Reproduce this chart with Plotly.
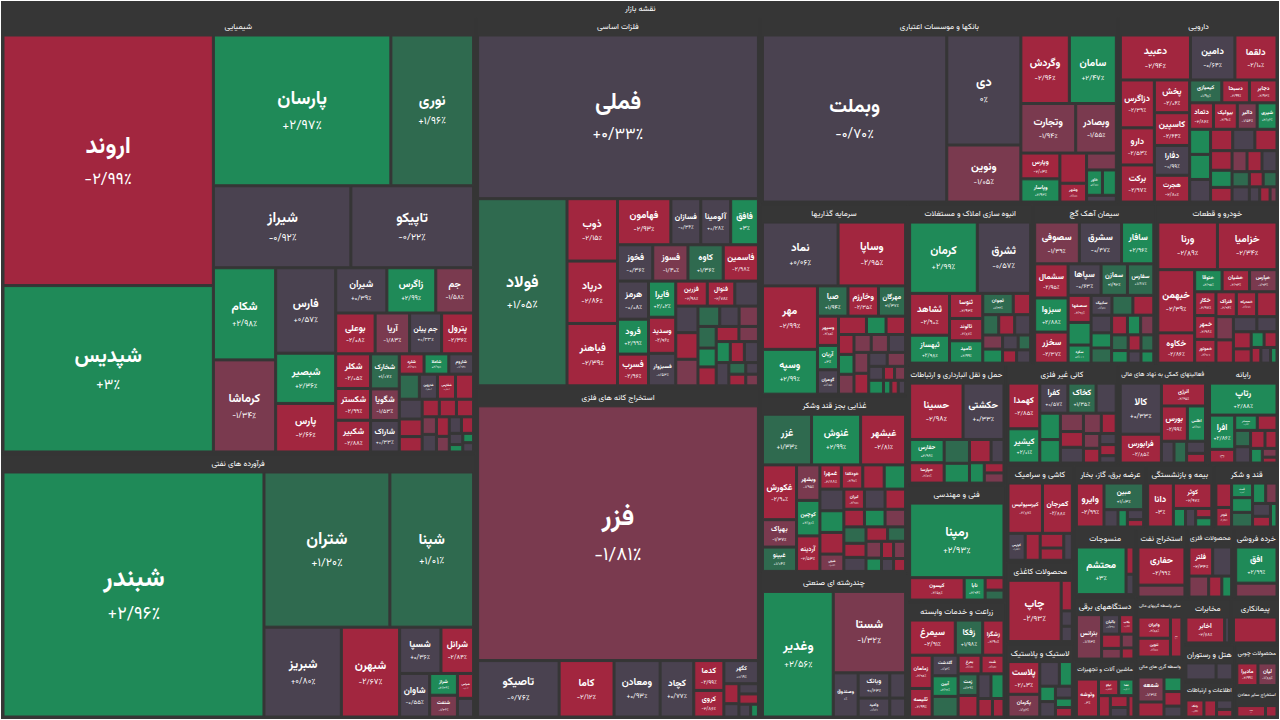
import math
import plotly.graph_objects as go

ROOT = "نقشه بازار"

# ---------------- data (sizes ~ relative market value, changes in %) ----------------
s01 = "شیمیایی"
s01_names = ["اروند", "شپدیس", "پارسان", "نوری", "شیراز", "تاپیکو", "شکام", "فارس", "کرماشا", "شبصیر",
             "پارس", "شیران", "زاگرس", "جم", "بوعلی", "آریا", "جم پیلن", "پترول", "شکلر", "شکستر",
             "شکبیر", "شخارک", "شگویا", "شاراک", "شلرد", "شاملا", "شاروم", "شاروین", "شفارس",
             "", "", "", "", "", "", "", "", "", "", "", "", "", "", "", "", "", ""]
s01_sizes = [52.4, 34.8, 26.6, 12.4, 11.2, 10.0, 5.7, 5.1, 5.7, 3.0,
             2.9, 2.3, 2.2, 1.7, 1.6, 1.4, 1.3, 1.3, 1.2, 1.1,
             1.1, 1.0, 0.9, 0.9, 0.5, 0.5, 0.5, 0.45, 0.45,
             0.45, 0.45, 0.4, 0.35, 0.5, 0.3, 0.3, 0.25, 0.25, 0.25, 0.2, 0.2, 0.2, 0.15, 0.1, 0.1, 0.1, 0.3]
s01_changes = [-2.99, 3, 2.97, 1.96, -0.92, -0.22, 2.98, 0.57, -1.34, 2.36,
               -2.66, 0.39, 2.99, -1.58, -2.08, -1.83, 0.33, -2.36, -2.05, -2.99,
               -2.88, 1.07, -1.53, 0.33, -2.97, 2.96, -0.92, -0.52, -2.62,
               -2.9, -0.5, -2.8, -2.5, 1.5, -2.5, -2.2, -1.5, -0.3, -2.9, -1.2, -0.4, -2.6, -0.2, 2.5, 2.5, 0, -2.9]

s02 = "فرآورده های نفتی"
s02_names = ["شبندر", "شتران", "شپنا", "شبریز", "شبهرن", "شسپا", "شرانل", "شاوان", "شراز", "شنفت", "شپاس", ""]
s02_sizes = [63.5, 19.4, 12.9, 6.9, 5.2, 1.9, 1.5, 1.3, 0.6, 0.6, 0.4, 0.3]
s02_changes = [2.96, 1.20, 1.01, 0.80, -2.67, 0.36, -2.84, -0.55, 2.36, -1.36, -2.10, -0.3]

s03 = "فلزات اساسی"
s03_names = ["فملی", "فولاد", "ذوب", "درپاد", "فباهنر", "فهامون", "فسازان", "آلومینا", "فافق", "فخوز",
             "فسوز", "کاوه", "فاسمین", "هرمز", "فرود", "فسرب", "فایرا", "وسدید", "فسبزوار", "فزرین", "فنوال",
             "", "", "", "", "", "", "", "", "", "", "", "", "", "", "", "", "", "", "", ""]
s03_sizes = [46.7, 17.0, 3.2, 3.2, 3.2, 2.5, 1.4, 1.4, 1.3, 1.3,
             1.3, 1.3, 1.3, 1.2, 1.1, 1.0, 1.0, 1.0, 0.9, 0.8, 0.7,
             0.6, 0.6, 0.6, 0.6, 0.4, 0.4, 0.35, 0.35, 0.45, 0.3, 0.3, 0.3, 0.4, 0.35, 0.3, 0.2, 0.2, 0.15, 0.15, 0.3]
s03_changes = [0.33, 1.05, -2.15, -2.86, -2.39, -2.93, -0.36, 0.28, 3, -0.36,
               -1.40, 1.36, -2.98, -0.08, 2.99, -2.96, 2.02, -2.96, -0.53, -2.98, -2.78,
               -0.3, -0.3, -2.9, -1.5, -0.2, -1.4, 2.9, -2.9, 1.4, -1.5, 2.8, -2.9, 1.4, -2.9, -0.2, 1.4, -2.9, -0.1, -1.2, -0.4]

s04 = "استخراج کانه های فلزی"
s04_names = ["فزر", "تاصیکو", "کاما", "ومعادن", "کچاد", "کدما", "کروی", "کگهر", "", "", "", "", "", ""]
s04_sizes = [71.5, 4.6, 3.1, 2.6, 1.9, 0.9, 0.8, 0.8, 0.3, 0.2, 0.2, 0.2, 0.1, 0.15]
s04_changes = [-1.81, -0.76, -2.12, 0.93, 0.77, -2.99, -2.86, 0.19, -2.9, -0.2, -0.1, -2.9, 2.5, 0]

s05 = "بانکها و موسسات اعتباری"
s05_names = ["وبملت", "دی", "ونوین", "وگردش", "سامان", "وتجارت", "وبصادر", "وپارس", "وپاسار", "وشهر", "خاور",
             "", "", "", ""]
s05_sizes = [30.6, 8.1, 4.2, 3.3, 3.2, 2.7, 2.0, 1.0, 0.9, 0.5, 0.4, 0.8, 0.5, 0.35, 0.2]
s05_changes = [-0.70, 0, -1.05, -2.96, 2.47, -1.94, -1.55, -2.03, 2.93, -2.99, 2.99, -2.9, -1.5, 2.8, -0.5]

s06 = "دارویی"
s06_names = ["دعبید", "دامین", "دزاگرس", "دلقما", "دارو", "برکت", "دفارا", "پخش", "کاسپین", "هجرت",
             "دسبحا", "دجابر", "دتماد", "بیولیک", "کیمیازی", "دالبر", "شیری",
             "", "", "", "", "", "", "", "", "", "", "", "", "", "", "", "", "", "", ""]
s06_sizes = [3.0, 1.9, 1.55, 1.8, 1.2, 1.2, 1.0, 1.1, 1.1, 0.9,
             0.6, 0.6, 0.6, 0.6, 0.7, 0.5, 0.5,
             0.45, 0.45, 0.45, 0.45, 0.4, 0.5, 0.5, 0.35, 0.3, 0.3, 0.3, 0.3, 0.25, 0.25, 0.2, 0.2, 0.15, 0.15, 0.1]
s06_changes = [-2.94, -0.64, -2.39, -2.10, -2.53, -2.97, -0.99, -2.06, -2.64, -2.80,
               -2.99, -2.93, -2.86, -2.90, 1.98, -1.54, 2.86,
               -0.3, -2.9, -0.3, -2.9, -2.9, 2.9, 2.9, 2.9, -2.9, -1.5, -2.9, -0.4, 1.3, -0.3, -2.9, 1.3, -0.3, -2.9, -1.4]

s07 = "سرمایه گذاریها"
s07_names = ["نماد", "وساپا", "مهر", "وسپه", "صبا", "وخارزم", "مهرگان", "وسپهر", "آریان", "گوهران",
             "", "", "", "", "", "", "", "", "", "", "", "", "", "", "", "", "", "", "", ""]
s07_sizes = [4.7, 4.2, 3.4, 2.4, 0.9, 0.9, 0.8, 0.6, 0.5, 0.5,
             0.5, 0.35, 0.35, 0.3, 0.3, 0.3, 0.3, 0.3, 0.3, 0.3, 0.3, 0.25, 0.25, 0.2, 0.2, 0.15, 0.15, 0.1, 0.1, 0.1]
s07_changes = [0.06, -2.95, -2.99, 2.99, 1.94, -2.35, 1.37, -2.85, 3, 0.05,
               -2.9, 2.9, -2.9, -2.9, 2.9, -1.5, -1.5, -1.5, -0.3, -1.4, -2.9, -0.3, -1.4, -0.3, 2.9, -2.9, -1.4, 2.9, -2.9, -0.3]

s08 = "انبوه سازی املاک و مستغلات"
s08_names = ["کرمان", "ثشرق", "ثشاهد", "ثبهساز", "ثنوسا", "ثالوند", "ثامید", "ثجوان",
             "", "", "", "", "", "", "", "", "", ""]
s08_sizes = [5.2, 4.1, 1.8, 1.2, 0.9, 0.8, 0.8, 0.7, 0.4, 0.35, 0.35, 0.35, 0.3, 0.3, 0.25, 0.2, 0.2, 0.2]
s08_changes = [2.99, -0.57, -2.90, 2.98, -2.93, -2.87, 2.99, 1.42, -2.9, 1.3, -2.9, -0.3, -1.4, 2.9, -0.3, 1.3, -2.9, -0.3]

s09 = "سیمان آهک گچ"
s09_names = ["سصوفی", "سشرق", "سافار", "سشمال", "سبزوا", "سخزر", "سپاها", "سمازن", "سفارس", "سصفها", "سکرد", "سابیک",
             "", "", "", "", "", "", "", "", "", "", "", "", "", "", ""]
s09_sizes = [1.8, 1.7, 1.3, 1.1, 1.1, 1.0, 1.0, 0.8, 0.8, 0.6, 0.4, 0.4,
             0.5, 0.4, 0.4, 0.35, 0.3, 0.3, 0.3, 0.25, 0.25, 0.25, 0.2, 0.2, 0.2, 0.15, 0.15]
s09_changes = [-1.39, -0.47, 2.96, -2.95, 2.88, -2.37, -0.63, 1.92, 1.87, -2.98, 2.33, -0.61,
               2.9, 1.3, -2.9, -0.3, 2.9, 1.3, -2.9, 2.9, -1.4, 1.3, 2.9, -2.9, 1.3, -0.3, 2.9]

s10 = "خودرو و قطعات"
s10_names = ["ورنا", "خزامیا", "خبهمن", "خکاوه", "ختوقا", "خشیان", "خپارس", "خکار", "خمهر", "خموتور", "فنراک", "خمحرکه",
             "", "", "", "", "", "", "", "", "", "", "", ""]
s10_sizes = [2.8, 2.8, 2.3, 1.1, 0.6, 0.6, 0.6, 0.5, 0.5, 0.5, 0.5, 0.5,
             0.5, 0.4, 0.4, 0.35, 0.3, 0.3, 0.25, 0.2, 0.2, 0.15, 0.15, 0.1]
s10_changes = [-2.89, -2.34, -2.39, -2.86, 2.95, -2.93, -1.93, -2.97, -2.98, -2.94, -2.94, -2.77,
               -2.9, -1.5, -2.9, -0.3, -0.3, -2.9, -2.9, 2.9, -2.9, -2.9, -0.3, 2.9]

s11 = "غذایی بجز قند وشکر"
s11_names = ["غزر", "غنوش", "غبشهر", "غکورش", "بهپاک", "غبینو", "وبشهر", "کوچین", "آردینه", "غمهرا", "خودکفا", "شیلی", "لبران",
             "", "", "", "", "", "", "", "", "", "", "", "", "", "", "", "", "", "", "", "", ""]
s11_sizes = [2.4, 2.4, 2.2, 1.8, 0.9, 0.8, 0.8, 0.8, 0.8, 0.5, 0.5, 0.4, 0.4,
             0.5, 0.5, 0.5, 0.5, 0.5, 0.35, 0.35, 0.35, 0.35, 0.3, 0.3, 0.3, 0.25, 0.25, 0.2, 0.2, 0.2, 0.15, 0.15, 0.4, 0.4]
s11_changes = [1.33, 2.99, -2.81, -2.90, -1.37, 1.04, -1.95, 2.80, -2.53, -2.88, -2.97, -1.23, -2.98,
               -2.9, 2.9, -0.3, 2.9, -2.9, -2.9, 2.9, -1.4, 1.3, -2.9, -0.3, -2.9, 1.3, -1.4, 2.9, -2.9, -1.4, -0.3, -2.9, -0.3, -2.9]

s12 = "چندرشته ای صنعتی"
s12_names = ["وغدیر", "شستا", "وصندوق", "وبانک", "وامید", "", ""]
s12_sizes = [8.9, 5.9, 1.1, 0.8, 0.6, 0.4, 0.3]
s12_changes = [2.56, -1.32, 0, 0.43, -0.92, -0.3, -0.3]

s13 = "حمل و نقل انبارداری و ارتباطات"
s13_names = ["حسینا", "حکشتی", "حفارس", "حپارسا", "", "", "", "", "", "", ""]
s13_sizes = [3.0, 2.3, 0.8, 0.7, 0.6, 0.5, 0.5, 0.3, 0.3, 0.2, 0.2]
s13_changes = [-2.98, 0.33, 2.98, -2.89, 1.4, 2.9, -2.9, -0.3, 2.9, -2.9, -1.4]

s14 = "فعالیتهای کمکی به نهاد های مالی"
s14_names = ["کالا", "فرابورس", "انرژی", "بورس", "اطلس", "", "", "", ""]
s14_sizes = [2.3, 1.3, 1.1, 1.0, 0.7, 0.3, 0.3, 0.25, 0.2]
s14_changes = [0.33, -2.85, -2.65, -2.99, 2.86, -0.3, 1.3, -0.3, -2.9]

s15 = "رایانه"
s15_names = ["رتاپ", "افرا", "وسن", "سیستم", "", "", "", "", "", "", "", ""]
s15_sizes = [2.5, 1.0, 0.4, 0.4, 0.35, 0.3, 0.3, 0.3, 0.25, 0.2, 0.15, 0.1]
s15_changes = [2.88, 2.86, -2.99, 2.99, -2.9, 1.3, -0.3, -2.9, -2.9, 2.9, -1.4, -2.9]

s16 = "کانی غیر فلزی"
s16_names = ["کهمدا", "کیشیر", "کفرا", "کخاک", "", "", "", "", "", "", "", "", "", "", "", "", ""]
s16_sizes = [1.2, 0.9, 0.7, 0.7, 0.5, 0.45, 0.4, 0.35, 0.3, 0.3, 0.3, 0.25, 0.2, 0.2, 0.15, 0.15, 0.1]
s16_changes = [-2.85, 2.01, 0.57, 1.35, -0.3, 2.9, 2.9, -1.4, -2.9, -0.3, -1.4, -2.9, -1.4, -2.9, -0.3, -2.9, -0.3]

s17 = "فنی و مهندسی"
s17_names = ["رمپنا", "کیسون", "تابا", "", ""]
s17_sizes = [7.5, 1.3, 0.5, 0.25, 0.2]
s17_changes = [2.93, -2.58, 2.94, -2.9, 1.3]

s18 = "بیمه و بازنشستگی"
s18_names = ["دانا", "کوثر", "", "", "", ""]
s18_sizes = [1.5, 1.3, 0.3, 0.25, 0.2, 0.2]
s18_changes = [-3, -2.97, 2.9, -0.3, -2.9, 2.9]

s19 = "دستگاههای برقی"
s19_names = ["بترانس", "بالبان", "بکاب", "", "", "", ""]
s19_sizes = [1.6, 0.5, 0.4, 0.4, 0.3, 0.25, 0.2]
s19_changes = [-1.83, -0.39, -2.99, -2.9, -1.4, -1.4, -2.9]

s20 = "لاستیک و پلاستیک"
s20_names = ["پلاست", "پکرمان", "", "", "", "", "", "", ""]
s20_sizes = [1.3, 0.9, 0.6, 0.4, 0.3, 0.3, 0.25, 0.2, 0.2]
s20_changes = [-2.03, -1.82, -0.3, 2.9, 2.9, -0.3, -0.3, 2.9, -2.9]

s21 = "عرضه برق، گاز، بخار"
s21_names = ["وایرو", "مبین", "", "", "", ""]
s21_sizes = [1.5, 1.3, 0.3, 0.2, 0.2, 0.15]
s21_changes = [-2.99, 1.03, -0.3, 2.9, -0.3, -2.9]

s22 = "زراعت و خدمات وابسته"
s22_names = ["سیمرغ", "زفکا", "زشگزا", "زماهان", "تلیسه", "گلدشت", "آبین", "بمرغ", "شت", "زمت",
             "", "", "", "", "", ""]
s22_sizes = [1.5, 0.9, 0.7, 0.7, 0.6, 0.5, 0.5, 0.4, 0.4, 0.4, 0.5, 0.4, 0.3, 0.3, 0.25, 0.2]
s22_changes = [-2.91, 1.98, -2.90, -2.95, -2.99, -0.62, 2.99, -2.08, -2.98, 1.39, 1.3, -2.9, -0.3, 2.9, -2.9, -2.9]

s23 = "محصولات کاغذی"
s23_names = ["چاپ", "", "", ""]
s23_sizes = [3.8, 0.4, 0.2, 0.2]
s23_changes = [-2.93, -2.9, -0.3, -0.3]

s24 = "کاشی و سرامیک"
s24_names = ["کیرسپولیس", "کمرجان", "کپارس", "", "", "", ""]
s24_sizes = [1.5, 1.3, 0.4, 0.35, 0.3, 0.25, 0.2]
s24_changes = [-2.87, -2.88, 0.34, -2.9, -2.9, -2.9, -0.3]

s25 = "قند و شکر"
s25_names = ["قچار", "قست", "", "", "", "", "", "", "", ""]
s25_sizes = [0.4, 0.4, 0.5, 0.4, 0.4, 0.35, 0.3, 0.3, 0.25, 0.2]
s25_changes = [-2.97, 2.91, -2.9, 2.9, 1.3, 2.9, -1.4, -0.3, -2.9, 2.9]

s26 = "ماشین آلات و تجهیزات"
s26_names = ["وتوشه", "لیکو", "تشا", "", "", "", ""]
s26_sizes = [1.0, 0.4, 0.3, 0.3, 0.25, 0.2, 0.15]
s26_changes = [-3, -2.33, 2.9, -2.9, -2.9, -0.3, -2.9]

s27 = "منسوجات"
s27_names = ["محتشم", "", ""]
s27_sizes = [2.2, 0.2, 0.15]
s27_changes = [3, -2.9, -0.3]

s28 = "استخراج نفت"
s28_names = ["حفاری", ""]
s28_sizes = [1.6, 0.5]
s28_changes = [-2.99, -1.4]

s29 = "خرده فروشی"
s29_names = ["افق", ""]
s29_sizes = [1.3, 0.5]
s29_changes = [2.99, -1.4]

s30 = "واسطه گری های مالی"
s30_names = ["شمعه", "", "", "", ""]
s30_sizes = [0.5, 0.3, 0.2, 0.2, 0.15]
s30_changes = [-1.31, -2.9, 2.9, -2.9, -0.3]

s31 = "محصولات فلزی"
s31_names = ["فلتر", "", "", "", ""]
s31_sizes = [0.5, 0.4, 0.3, 0.2, 0.15]
s31_changes = [-2.34, -0.3, -1.4, -2.9, 2.9]

s32 = "اطلاعات و ارتباطات"
s32_names = ["پانک", "", "", ""]
s32_sizes = [0.5, 0.35, 0.25, 0.2]
s32_changes = [-2.99, -2.9, -0.3, -2.9]

s33 = "محصولات چوبی"
s33_names = ["مادیرا", "لیان"]
s33_sizes = [0.5, 0.45]
s33_changes = [-2.99, -1.88]

s34 = "سایر واسطه گریهای مالی"
s34_names = ["وایران", "تنوین", "تجار"]
s34_sizes = [0.45, 0.4, 0.3]
s34_changes = [-2.88, -2.99, -2.03]

s35 = "هتل و رستوران"
s35_names = ["", ""]
s35_sizes = [0.45, 0.25]
s35_changes = [-0.3, -0.3]

s36 = "استخراج سایر معادن"
s36_names = ["کماسه", ""]
s36_sizes = [0.5, 0.2]
s36_changes = [-2.86, -2.9]

s37 = "مخابرات"
s37_names = ["اخابر", ""]
s37_sizes = [0.8, 0.1]
s37_changes = [-2.68, -0.3]

s38 = "پیمانکاری"
s38_names = [""]
s38_sizes = [0.5]
s38_changes = [-2.9]

# whole-sector box areas (thousand px², header included)
sector_areas = [209.1, 126.8, 106.5, 95.1, 67.5, 30.3, 28.5, 20.3, 20.0, 20.0,
                26.3, 21.6, 11.9, 9.0, 7.2, 11.3, 11.6, 4.4, 4.0, 5.2,
                4.6, 11.6, 5.6, 6.7, 4.2, 3.6, 4.2, 3.6, 3.2, 2.9,
                3.3, 1.9, 1.9, 2.9, 1.9, 1.4, 2.2, 2.2]

sectors = [
    (s01, s01_names, s01_sizes, s01_changes), (s02, s02_names, s02_sizes, s02_changes),
    (s03, s03_names, s03_sizes, s03_changes), (s04, s04_names, s04_sizes, s04_changes),
    (s05, s05_names, s05_sizes, s05_changes), (s06, s06_names, s06_sizes, s06_changes),
    (s07, s07_names, s07_sizes, s07_changes), (s08, s08_names, s08_sizes, s08_changes),
    (s09, s09_names, s09_sizes, s09_changes), (s10, s10_names, s10_sizes, s10_changes),
    (s11, s11_names, s11_sizes, s11_changes), (s12, s12_names, s12_sizes, s12_changes),
    (s13, s13_names, s13_sizes, s13_changes), (s14, s14_names, s14_sizes, s14_changes),
    (s15, s15_names, s15_sizes, s15_changes), (s16, s16_names, s16_sizes, s16_changes),
    (s17, s17_names, s17_sizes, s17_changes), (s18, s18_names, s18_sizes, s18_changes),
    (s19, s19_names, s19_sizes, s19_changes), (s20, s20_names, s20_sizes, s20_changes),
    (s21, s21_names, s21_sizes, s21_changes), (s22, s22_names, s22_sizes, s22_changes),
    (s23, s23_names, s23_sizes, s23_changes), (s24, s24_names, s24_sizes, s24_changes),
    (s25, s25_names, s25_sizes, s25_changes), (s26, s26_names, s26_sizes, s26_changes),
    (s27, s27_names, s27_sizes, s27_changes), (s28, s28_names, s28_sizes, s28_changes),
    (s29, s29_names, s29_sizes, s29_changes), (s30, s30_names, s30_sizes, s30_changes),
    (s31, s31_names, s31_sizes, s31_changes), (s32, s32_names, s32_sizes, s32_changes),
    (s33, s33_names, s33_sizes, s33_changes), (s34, s34_names, s34_sizes, s34_changes),
    (s35, s35_names, s35_sizes, s35_changes), (s36, s36_names, s36_sizes, s36_changes),
    (s37, s37_names, s37_sizes, s37_changes), (s38, s38_names, s38_sizes, s38_changes),
]

# ---------------- styling helpers ----------------
BG = "#363636"
FONT = "Vazirmatn, 'Noto Sans Arabic', 'DejaVu Sans', sans-serif"
FA_DIGITS = str.maketrans("0123456789.", "۰۱۲۳۴۵۶۷۸۹/")


def fa_pct(c):
    s = f"{abs(c):.2f}"
    if s.endswith(".00"):
        s = s[:-3]
    sign = "+" if c > 0 else ("-" if c < 0 else "")
    return sign + s.translate(FA_DIGITS) + "٪"


def color_for(c):
    if c >= 2:
        return "#1f8a58"
    if c >= 1:
        return "#2f6a4f"
    if c > -1:
        return "#4a4250"
    if c > -2:
        return "#7a3a4f"
    return "#a2263f"


HEADER_SIZE = 10
ids, labels, parents, values, colors, texts, sizes = [], [], [], [], [], [], []
ids.append(ROOT); labels.append(ROOT); parents.append(""); values.append(0)
colors.append(BG); texts.append("<b>" + ROOT + "</b>"); sizes.append(HEADER_SIZE)

for (sec, names, vals, chg), box in zip(sectors, sector_areas):
    ids.append(sec); labels.append(sec); parents.append(ROOT); values.append(0)
    colors.append(BG); texts.append("<b>" + sec + "</b>"); sizes.append(HEADER_SIZE)
    k = box / sum(vals)
    for i, (n, v, c) in enumerate(zip(names, vals, chg)):
        ids.append(f"{sec}/{i}")
        labels.append(n if n else "·")
        parents.append(sec)
        values.append(v * k)
        colors.append(color_for(c))
        f = 6 + 0.078 * math.sqrt(v * 1000)
        sizes.append(round(f, 1))
        if n:
            texts.append(f"<b>{n}</b><br><span style='font-size:{round(f * 0.7, 1)}px'>{fa_pct(c)}</span>")
        else:
            texts.append("")

fig = go.Figure(go.Treemap(
    ids=ids, labels=labels, parents=parents, values=values,
    branchvalues="remainder",
    text=texts, textinfo="text",
    textposition="middle center",
    textfont=dict(family=FONT, color="#ffffff", size=sizes),
    marker=dict(colors=colors, line=dict(width=1, color=BG), pad=dict(t=18, l=2, r=2, b=2)),
    tiling=dict(pad=2, squarifyratio=1),
    pathbar=dict(visible=False),
    hoverinfo="skip",
    sort=True,
))
fig.update_layout(
    width=1280, height=720,
    margin=dict(l=0, r=0, t=0, b=0),
    paper_bgcolor=BG, plot_bgcolor=BG,
)
fig.write_html("out.html")
